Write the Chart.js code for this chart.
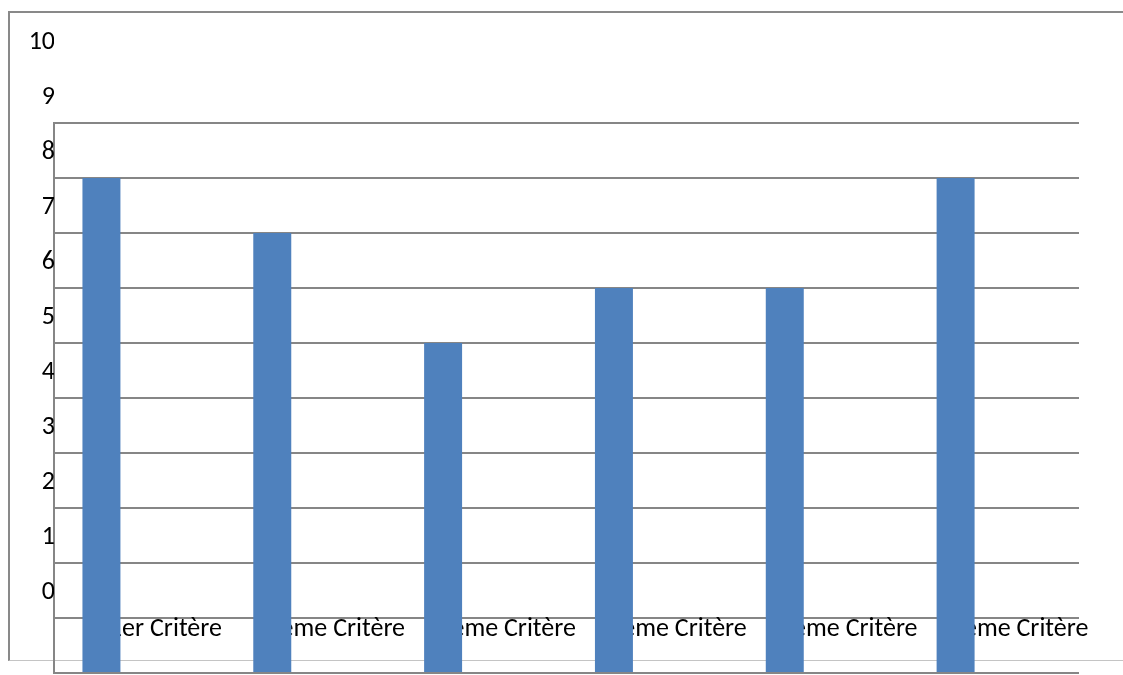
<!DOCTYPE html>
<html>
<head>
<meta charset="utf-8">
<script src="https://cdn.jsdelivr.net/npm/chart.js@4/dist/chart.umd.min.js"></script>
<style>
  html, body { margin: 0; padding: 0; background: #fff; overflow: hidden; }
  #wrap { position: relative; width: 1123px; height: 675px; overflow: hidden; }
  #frame {
    position: absolute; left: 8px; top: 11px; width: 1300px; height: 647px;
    border-top: 2px solid #898989; border-left: 2px solid #898989;
    border-bottom: 1px solid #c4c4c4;
  }
  canvas { position: absolute; left: 0; top: 0; }
</style>
</head>
<body>
<div id="wrap">
  <div id="frame"></div>
  <canvas id="c" width="1123" height="675"></canvas>
</div>
<script>
const categories = ["1er Critère", "2ème Critère", "3ème Critère", "4ème Critère", "5ème Critère", "6ème Critère"];
const serie1 = [9, 8, 6, 7, 7, 9];
const serie2 = [null, null, null, null, null, null];
const serie3 = [null, null, null, null, null, null];
const yTickLabels = ["0", "1", "2", "3", "4", "5", "6", "7", "8", "9", "10"];

const FONT = "Carlito, Calibri, Lato, sans-serif";
const GRID = "#868686";

new Chart(document.getElementById("c"), {
  type: "bar",
  data: {
    labels: categories,
    datasets: [
      { label: "Série 1", data: serie1, backgroundColor: "#4f81bd", borderWidth: 0 },
      { label: "Série 2", data: serie2, backgroundColor: "#c0504d", borderWidth: 0 },
      { label: "Série 3", data: serie3, backgroundColor: "#9bbb59", borderWidth: 0 }
    ]
  },
  options: {
    responsive: false,
    animation: false,
    layout: { padding: { top: 123, bottom: 2, left: 0, right: 44 } },
    plugins: { legend: { display: false }, tooltip: { enabled: false }, title: { display: false } },
    datasets: { bar: { categoryPercentage: 0.667, barPercentage: 1 } },
    scales: {
      x: {
        position: { y: 1 },
        grid: { display: false, drawTicks: false },
        border: { display: false },
        ticks: {
          autoSkip: false, maxRotation: 0, minRotation: 0,
          padding: -4, labelOffset: 26,
          color: "#000", font: { family: FONT, size: 26 }
        },
        afterFit: (s) => { s.paddingLeft = 0; s.paddingRight = 0; }
      },
      y: {
        min: 0, max: 10,
        grid: { color: GRID, lineWidth: 2, drawTicks: false },
        border: { display: true, color: GRID, width: 2 },
        ticks: {
          stepSize: 1, padding: -1, labelOffset: -81,
          color: "#000", font: { family: FONT, size: 26 },
          callback: (v, i) => yTickLabels[i]
        },
        afterFit: (s) => { s.width = 54; s.paddingTop = 0; s.paddingBottom = 0; }
      }
    }
  }
});
</script>
</body>
</html>
